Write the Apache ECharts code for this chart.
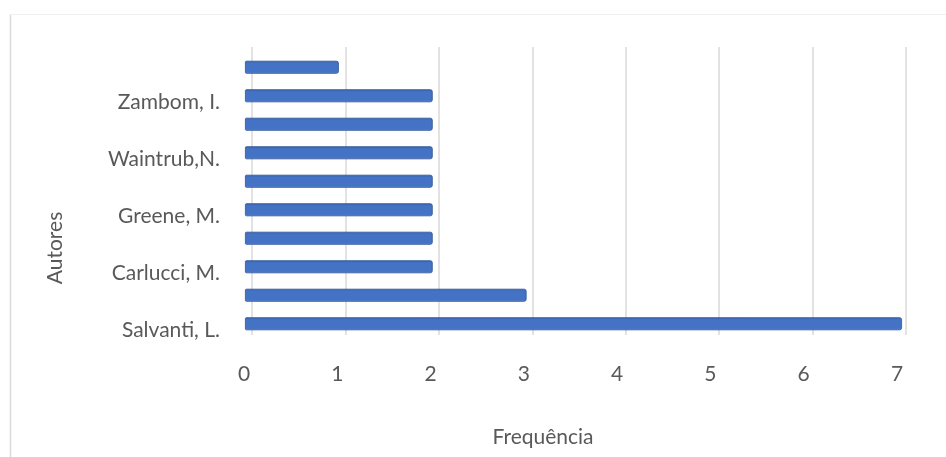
<!DOCTYPE html>
<html>
<head>
<meta charset="utf-8">
<script src="https://cdn.jsdelivr.net/npm/echarts@6/dist/echarts.min.js"></script>
<style>
html,body{margin:0;padding:0;background:#fff;}
#chart{width:946px;height:457px;}
</style>
</head>
<body>
<div id="chart"></div>
<script>
// Categories from bottom to top (only every other label is shown in the reference)
var categories = ['Salvanti, L.', '', 'Carlucci, M.', '', 'Greene, M.', '', 'Waintrub,N.', '', 'Zambom, I.', ''];
var frequencies = [7, 3, 2, 2, 2, 2, 2, 2, 2, 1];
var xTicks = [0, 1, 2, 3, 4, 5, 6, 7];
var xTitle = 'Frequência';
var yTitle = 'Autores';

var FONT = 'Lato, "Open Sans", sans-serif';
var TXT = '#595959';
var xMin = xTicks[0], xMax = xTicks[xTicks.length - 1];

var chart = echarts.init(document.getElementById('chart'));
chart.setOption({
  animation: false,
  backgroundColor: '#fff',
  grid: [
    // gridlines (3D depth offset)
    {left: 252, right: 40, top: 47, bottom: 122},
    // bars
    {left: 245, right: 44, top: 53, bottom: 119},
    // tick labels
    {left: 244, right: 49, top: 53, bottom: 119}
  ],
  xAxis: [
    {gridIndex: 0, type: 'value', min: xMin, max: xMax, interval: 1,
     axisLine: {show: false}, axisTick: {show: false}, axisLabel: {show: false},
     splitLine: {show: true, lineStyle: {color: '#D9D9D9', width: 1.5}}},
    {gridIndex: 1, type: 'value', min: xMin, max: xMax, interval: 1,
     axisLine: {show: false}, axisTick: {show: false}, axisLabel: {show: false},
     splitLine: {show: false}},
    {gridIndex: 2, type: 'value', min: xMin, max: xMax, interval: 1,
     axisLine: {show: false}, axisTick: {show: false}, splitLine: {show: false},
     axisLabel: {show: true, margin: 26, color: TXT, fontFamily: FONT, fontSize: 21}}
  ],
  yAxis: [
    {gridIndex: 0, type: 'category', data: categories, show: false},
    {gridIndex: 1, type: 'category', data: categories,
     axisLine: {show: false}, axisTick: {show: false}, splitLine: {show: false},
     axisLabel: {show: true, interval: 1, margin: 25, color: TXT, fontFamily: FONT, fontSize: 21,
                 verticalAlign: 'top', lineHeight: 13}},
    {gridIndex: 2, type: 'category', data: categories, show: false}
  ],
  series: [{
    type: 'bar',
    xAxisIndex: 1,
    yAxisIndex: 1,
    data: frequencies,
    barWidth: 13,
    itemStyle: {
      color: {type: 'linear', x: 0, y: 0, x2: 0, y2: 1, colorStops: [
        {offset: 0, color: '#3A62AD'}, {offset: 0.2, color: '#4472C4'},
        {offset: 0.85, color: '#4472C4'}, {offset: 1, color: '#6389D0'}]},
      borderColor: '#2F5597',
      borderWidth: 0.8,
      borderRadius: [1, 2, 2, 1]
    }
  }],
  graphic: [
    {type: 'line', shape: {x1: 10.5, y1: 14, x2: 10.5, y2: 457}, style: {stroke: '#D9D9D9', lineWidth: 1.5}},
    {type: 'line', shape: {x1: 10, y1: 14.5, x2: 946, y2: 14.5}, style: {stroke: '#F0F0F0', lineWidth: 1}},
    {type: 'text', x: 543, y: 437, style: {text: xTitle, fill: TXT, font: '21px ' + FONT, align: 'center', verticalAlign: 'middle'}},
    {type: 'text', x: 55, y: 248, rotation: Math.PI / 2, style: {text: yTitle, fill: TXT, font: '21px ' + FONT, align: 'center', verticalAlign: 'middle'}}
  ]
});
</script>
</body>
</html>
